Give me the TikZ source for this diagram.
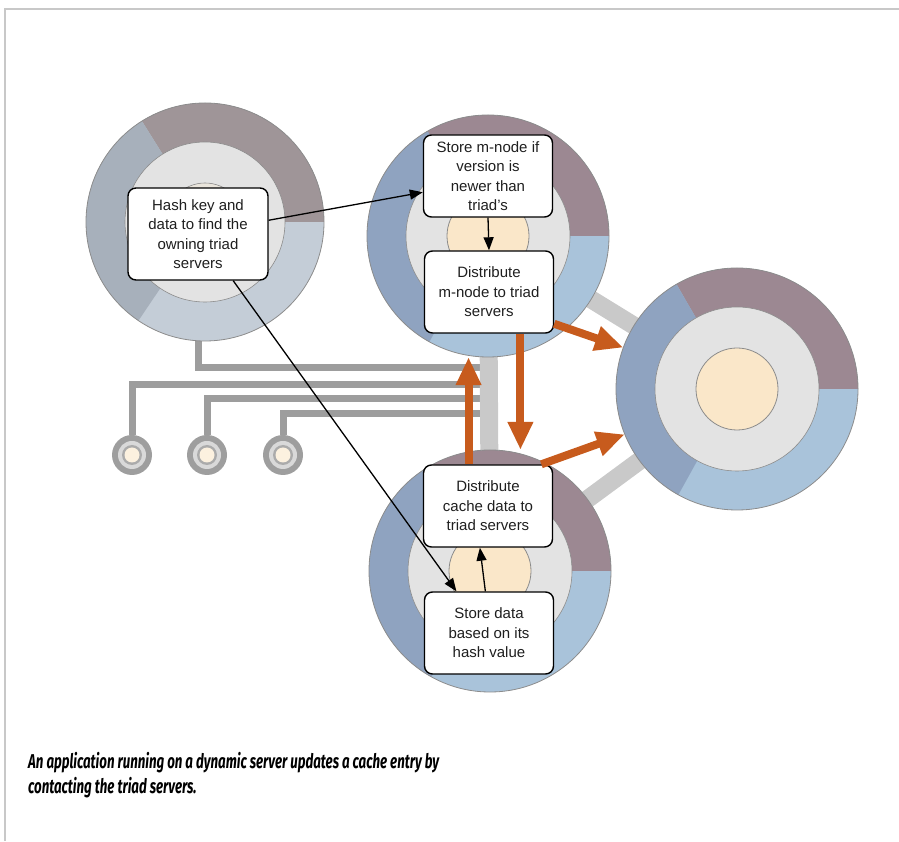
\documentclass[tikz,border=0pt]{standalone}
\usepackage{fontspec}
\setmainfont{Liberation Sans}
\newfontfamily\captionfont[FakeStretch=0.665]{Fira Sans}
\usetikzlibrary{positioning, arrows.meta}

\definecolor{mauve}{HTML}{9C8892}
\definecolor{deepblue}{HTML}{8FA3C0}
\definecolor{paleblue}{HTML}{A9C3DA}
\definecolor{ringgray}{HTML}{E3E3E3}
\definecolor{corecream}{HTML}{FAE7C9}
\definecolor{rimgray}{HTML}{8C8C8C}
\definecolor{dynmauve}{HTML}{9F9598}
\definecolor{dynblue}{HTML}{A7B0BB}
\definecolor{dynpale}{HTML}{C4CDD7}
\definecolor{dyncore}{HTML}{EAE5DC}
\definecolor{conduitgray}{HTML}{9D9D9D}
\definecolor{backbonegray}{HTML}{C9C9C9}
\definecolor{pushorange}{HTML}{C75B1D}
\definecolor{framegray}{HTML}{C8C8C8}

\begin{document}
\begin{tikzpicture}[x=1pt, y=1pt,
    taskbox/.style={draw=black, line width=1.4pt, fill=white, rounded corners=8pt,
        minimum width=129pt, minimum height=82pt, align=center, inner sep=2pt,
        text=black!88, font=\fontsize{15}{19.5}\selectfont},
    server/.style={circle, minimum size=242pt, inner sep=0pt},
    client/.style={circle, minimum size=40pt, inner sep=0pt},
    conduit/.style={draw=conduitgray, line width=7pt},
    backbone/.style={draw=backbonegray, line width=18pt},
    push/.style={draw=pushorange, line width=8pt, -{Triangle[length=28pt,width=24pt]}},
    flow/.style={draw=black, line width=1.3pt, -{Triangle[length=13pt,width=10pt]}}]
    \useasboundingbox (0,0) rectangle (899,841);
    \draw[framegray, line width=2pt] (5,0) -- (5,832) -- (899,832);

    % servers
    \node[server, minimum size=238pt] (A) at (205,619) {};
    \node[server] (B) at (488,605) {};
    \node[server] (C) at (737,452) {};
    \node[server] (D) at (490,270) {};
    \node[client] (s1) at (132,386) {};
    \node[client] (s2) at (207,386) {};
    \node[client] (s3) at (283,386) {};

    % wiring below the servers
    \coordinate (bus1) at (489,473);
    \coordinate (bus2) at (489,456);
    \coordinate (bus3) at (489,442);
    \coordinate (bus4) at (489,427);
    \draw[conduit] ([xshift=-7pt]A.center) |- (bus1);
    \draw[conduit] (s1) |- (bus2);
    \draw[conduit] (s2) |- (bus3);
    \draw[conduit] (s3) |- (bus4);
    \draw[backbone] (B) -- (D);
    \draw[backbone] (B) -- (C);
    \draw[backbone] (D) -- (C);

    % dynamic server
    \fill[dynpale] (A) circle (119pt);
    \fill[dynmauve] (A.center) -- ++(0:119pt) arc (0:122:119pt) -- cycle;
    \fill[dynblue] (A.center) -- ++(122:119pt) arc (122:236:119pt) -- cycle;
    \draw[rimgray, line width=0.8pt] (A) circle (119pt);
    \filldraw[fill=ringgray, draw=rimgray, line width=0.6pt] (A) circle (80pt);
    \filldraw[fill=dyncore, draw=rimgray, line width=0.6pt] (A) circle (39pt);

    % triad servers
    \foreach \s in {B,C,D}{
        \fill[paleblue] (\s) circle (121pt);
        \fill[mauve] (\s.center) -- ++(0:121pt) arc (0:120:121pt) -- cycle;
        \fill[deepblue] (\s.center) -- ++(120:121pt) arc (120:241:121pt) -- cycle;
        \draw[rimgray, line width=0.8pt] (\s) circle (121pt);
        \filldraw[fill=ringgray, draw=rimgray, line width=0.6pt] (\s) circle (82pt);
        \filldraw[fill=corecream, draw=rimgray, line width=0.8pt] (\s) circle (41pt);
    }

    % small servers
    \foreach \s in {s1,s2,s3}{
        \fill[black!38] (\s) circle (20pt);
        \fill[black!15] (\s) circle (14pt);
        \fill[black!33] (\s) circle (10pt);
        \fill[corecream!60] (\s) circle (7.5pt);
    }

    \node[taskbox, minimum width=140pt, minimum height=92pt] (A1) at (198,607)
        {Hash key and\\data to find the\\owning triad\\servers};
    \node[taskbox] (B1) at (488,665) {Store m-node if\\version is\\newer than\\triad's};
    \node[taskbox] (B2) at (489,549) {Distribute\\m-node to triad\\servers};
    \node[taskbox] (D1) at (488,335) {Distribute\\cache data to\\triad servers};
    \node[taskbox] (D2) at (489,208) {Store data\\based on its\\hash value};

    \draw[flow] (A1.11) -- (B1.194);
    \draw[flow] (A1.-53) -- (D2.128);
    \draw[flow] (B1.south) -- (B2.north);
    \draw[flow] (D2.95) -- (D1.259);

    \draw[push] (B2.-26) -- (C.160);
    \draw[push] (B2.-53) -- (B2.-53 |- D.north);
    \draw[push] (D1.115) -- (D1.115 |- B.south);
    \draw[push] (D1.38) -- (C.202);

    \node[anchor=north west, align=left, inner sep=0pt,
        font=\captionfont\fontsize{20}{25}\selectfont\bfseries\itshape] (caption) at (28,89)
        {An application running on a dynamic server updates a cache entry by\\contacting the triad servers.};
\end{tikzpicture}
\end{document}
